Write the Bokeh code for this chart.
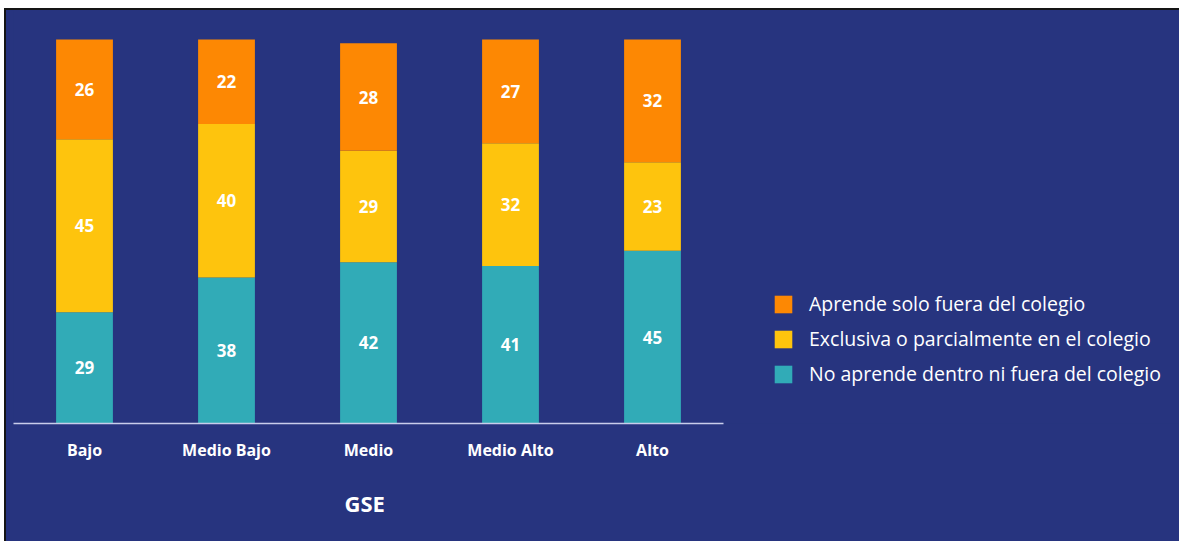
from bokeh.plotting import figure
from bokeh.models import Range1d, FixedTicker, Legend, LegendItem, Title, ColumnDataSource
from bokeh.core.properties import value
from bokeh.embed import file_html
from bokeh.resources import INLINE

categories = ["Bajo", "Medio Bajo", "Medio", "Medio Alto", "Alto"]
no_aprende = [29, 38, 42, 41, 45]
exclusiva = [45, 40, 29, 32, 23]
solo_fuera = [26, 22, 28, 27, 32]
series_names = ["No aprende dentro ni fuera del colegio",
                "Exclusiva o parcialmente en el colegio",
                "Aprende solo fuera del colegio"]
colors = ["#31ABB7", "#FEC40D", "#FD8803"]
axis_title = "GSE"

BG = "#27347F"
FONT = "Open Sans"

xs = [i + 0.5 for i in range(len(categories))]
src = ColumnDataSource(dict(x=xs, no=no_aprende, ex=exclusiva, fu=solo_fuera))

W, H = 1175, 533
p = figure(width=W, height=H, output_backend="svg", toolbar_location=None,
           x_range=Range1d(0, (W - 7) / 142.0), y_range=Range1d(0, 107.55),
           min_border_left=7, min_border_right=0, min_border_top=0, min_border_bottom=120)
p.styles = {"margin-left": "4px", "margin-top": "8px", "background-color": BG,
            "border-left": "2px solid #151515", "border-top": "2px solid #151515"}
p.background_fill_color = None
p.border_fill_color = BG
p.outline_line_color = None
p.grid.visible = False
p.yaxis.visible = False

renderers = p.vbar_stack(["no", "ex", "fu"], x="x", width=0.4, source=src,
                         color=colors, line_color=None)

# value labels
lx, ly, lt = [], [], []
for i in range(len(categories)):
    base = 0
    for vals in (no_aprende, exclusiva, solo_fuera):
        v = vals[i]
        lx.append(xs[i]); ly.append(base + v / 2.0); lt.append(str(v))
        base += v
p.text(x=lx, y=ly, text=lt, text_color="white", text_align="center",
       text_baseline="middle", text_font=value(FONT), text_font_style="bold",
       text_font_size="17px")

ax = p.xaxis[0]
ax.ticker = FixedTicker(ticks=xs)
ax.major_label_overrides = {x: c for x, c in zip(xs, categories)}
ax.bounds = (-0.03, 5.0)
ax.axis_line_color = "#C9CDEB"
ax.axis_line_width = 1.5
ax.major_tick_line_color = None
ax.minor_tick_line_color = None
ax.major_label_standoff = 9
ax.major_label_text_color = "white"
ax.major_label_text_font = FONT
ax.major_label_text_font_style = "bold"
ax.major_label_text_font_size = "16px"

p.add_layout(Title(text=axis_title, align="left", offset=331, standoff=45,
                   text_color="white", text_font=FONT, text_font_style="bold",
                   text_font_size="22px"), "below")

items = [LegendItem(label=series_names[k], renderers=[renderers[k]]) for k in (2, 1, 0)]
leg = Legend(items=items, location=(759, 36), orientation="vertical",
             glyph_width=22, glyph_height=22, label_standoff=15, spacing=8,
             padding=0, margin=0, label_text_color="white", label_text_font=FONT,
             label_text_font_size="19.5px", background_fill_alpha=0,
             border_line_color=None, label_height=22)
p.add_layout(leg)

open("out.html", "w").write(file_html(p, INLINE))
